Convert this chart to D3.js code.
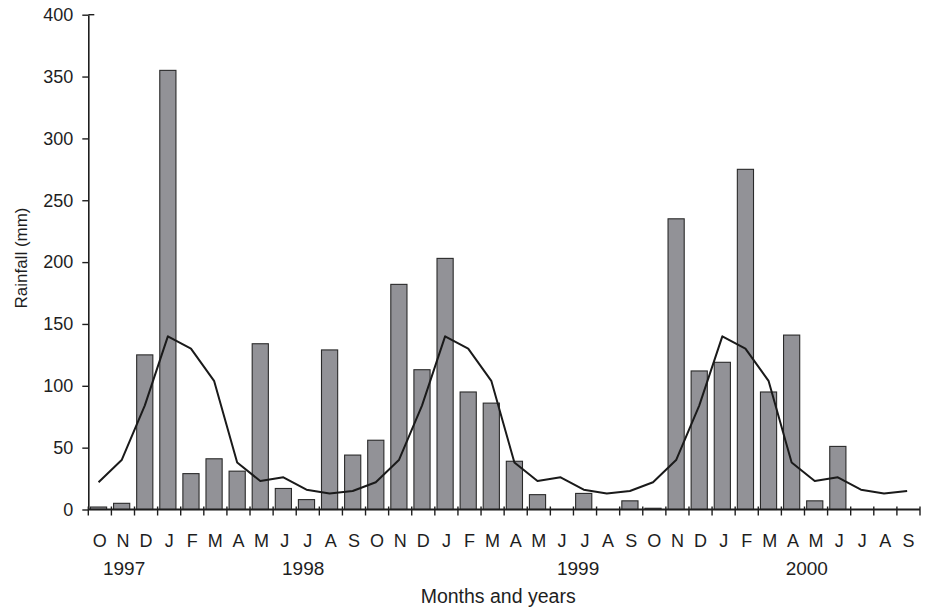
<!DOCTYPE html>
<html>
<head>
<meta charset="utf-8">
<script src="https://cdn.jsdelivr.net/npm/d3@7"></script>
<style>
  html, body { margin: 0; padding: 0; background: #fff; }
  svg { display: block; font-family: "Liberation Sans", Arial, Helvetica, sans-serif; }
</style>
</head>
<body>
<svg id="chart" width="930" height="607"></svg>
<script>
// ---- data ----
const months = ["O","N","D","J","F","M","A","M","J","J","A","S",
                "O","N","D","J","F","M","A","M","J","J","A","S",
                "O","N","D","J","F","M","A","M","J","J","A","S"];
const rainfall = [2, 5, 125, 355, 29, 41, 31, 134, 17, 8, 129, 44,
                  56, 182, 113, 203, 95, 86, 39, 12, 0, 13, 0, 7,
                  1, 235, 112, 119, 275, 95, 141, 7, 51, 0, 0, 0];
const meanRainfall = [22, 40, 84, 140, 130, 104, 38, 23, 26, 16, 13, 15,
                      22, 40, 84, 140, 130, 104, 38, 23, 26, 16, 13, 15,
                      22, 40, 84, 140, 130, 104, 38, 23, 26, 16, 13, 15];
const years = ["1997", "1998", "1999", "2000"];
const yearAt = [1.05, 8.8, 20.7, 30.6];   // category position under which each year sits
const yTicks = [0, 50, 100, 150, 200, 250, 300, 350, 400];

// ---- layout ----
const svg = d3.select("#chart");
const x0 = 88.3, x1 = 920, yBottom = 509.5, yTop = 14.7;
const idx = months.map((d, i) => i);

const xStep = d3.scaleBand().domain(idx).range([x0, x1]).padding(0);
const xBar = d3.scaleBand().domain(idx).range([x0 - 1.3, x1 - 1.3]).paddingInner(0.3).paddingOuter(0.15);
const y = d3.scaleLinear().domain([0, 400]).range([yBottom, yTop]);
const xPos = d3.scaleLinear().domain([0, months.length]).range([x0, x1]);

const ink = "#1e1e1e";

// bars
svg.append("g").selectAll("rect").data(rainfall).join("rect")
  .attr("x", (d, i) => xBar(i))
  .attr("width", xBar.bandwidth())
  .attr("y", d => y(d))
  .attr("height", d => yBottom - y(d))
  .attr("fill", d => d > 0 ? "#929297" : "none")
  .attr("stroke", d => d > 0 ? "#2a2a2a" : "none")
  .attr("stroke-width", 1.1);

// mean line
const line = d3.line()
  .x((d, i) => xBar(i) + xBar.bandwidth() / 2)
  .y(d => y(d));
svg.append("path").datum(meanRainfall)
  .attr("d", line)
  .attr("fill", "none")
  .attr("stroke", "#1a1a1a")
  .attr("stroke-width", 2)
  .attr("stroke-linejoin", "round");

// y axis
const yAxis = svg.append("g")
  .attr("transform", `translate(${x0},0)`)
  .call(d3.axisLeft(y).tickValues(yTicks).tickSize(6).tickPadding(9).tickSizeOuter(0));
yAxis.select(".domain").attr("stroke", ink).attr("stroke-width", 1.6);
yAxis.selectAll(".tick line").attr("stroke", ink).attr("stroke-width", 1.4);
yAxis.selectAll(".tick text").attr("fill", ink).style("font-size", "18px")
  .style("font-family", "'Liberation Sans', Arial, sans-serif");
// top tick crosses the axis
yAxis.append("line")
  .attr("x1", 0).attr("x2", 6)
  .attr("y1", y(400)).attr("y2", y(400))
  .attr("stroke", ink).attr("stroke-width", 1.4);

// x axis line
svg.append("line")
  .attr("x1", x0).attr("x2", x1)
  .attr("y1", yBottom).attr("y2", yBottom)
  .attr("stroke", ink).attr("stroke-width", 2.2);

// x ticks at category boundaries
const bounds = d3.range(months.length + 1);
svg.append("g").selectAll("line").data(bounds).join("line")
  .attr("x1", d => xPos(d)).attr("x2", d => xPos(d))
  .attr("y1", yBottom - 3).attr("y2", yBottom + 6)
  .attr("stroke", ink).attr("stroke-width", 1.4);

// month labels
svg.append("g").selectAll("text").data(months).join("text")
  .attr("x", (d, i) => xStep(i) + xStep.bandwidth() / 2)
  .attr("y", 547)
  .attr("text-anchor", "middle")
  .attr("fill", ink)
  .style("font-size", "18px")
  .text(d => d);

// year labels
svg.append("g").selectAll("text").data(years).join("text")
  .attr("x", (d, i) => xPos(yearAt[i] + 0.5))
  .attr("y", 575)
  .attr("text-anchor", "middle")
  .attr("fill", ink)
  .style("font-size", "19px")
  .text(d => d);

// axis titles
svg.append("text")
  .attr("x", (x0 + x1) / 2 - 6)
  .attr("y", 603)
  .attr("text-anchor", "middle")
  .attr("fill", ink)
  .style("font-size", "19.5px")
  .text("Months and years");

svg.append("text")
  .attr("transform", `translate(27,258) rotate(-90)`)
  .attr("text-anchor", "middle")
  .attr("fill", ink)
  .style("font-size", "17px")
  .text("Rainfall (mm)");
</script>
</body>
</html>
